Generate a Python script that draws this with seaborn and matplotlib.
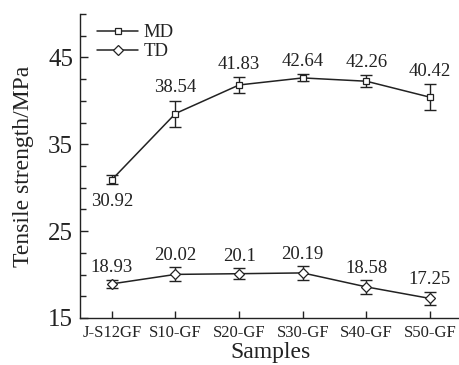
import numpy as np
import pandas as pd
import matplotlib
matplotlib.use("Agg")
import matplotlib.pyplot as plt
import seaborn as sns
from matplotlib.ticker import MultipleLocator

samples = ["J-S12GF", "S10-GF", "S20-GF", "S30-GF", "S40-GF", "S50-GF"]
md_values = [30.92, 38.54, 41.83, 42.64, 42.26, 40.42]
md_err = [0.5, 1.5, 0.9, 0.4, 0.7, 1.5]
td_values = [18.93, 20.02, 20.1, 20.19, 18.58, 17.25]
td_err = [0.5, 0.8, 0.6, 0.8, 0.8, 0.8]

sns.set_theme(style="ticks")
plt.rcParams['font.family'] = ['Liberation Serif', 'DejaVu Serif']

df = pd.DataFrame({
    "pos": list(range(len(samples))) * 2,
    "value": md_values + td_values,
    "series": ["MD"] * len(samples) + ["TD"] * len(samples),
})

INK = "#222222"
fig = plt.figure(figsize=(4.6, 3.65), dpi=100)
ax = fig.add_axes([80/460, 1 - 318/365, 1 - 80/460 + 0.004, (318 - 14)/365])

sns.lineplot(data=df, x="pos", y="value", hue="series", style="series",
             markers={"MD": "s", "TD": "D"}, dashes=False,
             palette={"MD": INK, "TD": INK},
             markersize=5, markerfacecolor="white", markeredgecolor=INK,
             markeredgewidth=0.9, linewidth=1.1, ax=ax, zorder=3)

x = np.arange(len(samples))
ax.errorbar(x, md_values, yerr=md_err, fmt="none", ecolor=INK,
            elinewidth=1.0, capsize=4, capthick=1.0, zorder=2)
ax.errorbar(x, td_values, yerr=td_err, fmt="none", ecolor=INK,
            elinewidth=1.0, capsize=4, capthick=1.0, zorder=2)

# value labels
for i, (v, e) in enumerate(zip(md_values, md_err)):
    if i == 0:
        ax.text(i, v - e - 1.0, f"{v:g}", ha="center", va="top", fontsize=13.5, color=INK)
    else:
        ax.text(i, v + e + 0.5, f"{v:g}", ha="center", va="bottom", fontsize=13.5, color=INK)
for i, (v, e) in enumerate(zip(td_values, td_err)):
    ax.text(i, v + e + 0.35, f"{v:g}", ha="center", va="bottom", fontsize=13.5, color=INK)

ax.set_xlim(-0.5, 5.5)
ax.set_ylim(15, 50)
ax.set_xticks(x)
ax.set_xticklabels(samples, fontsize=12)
ax.set_yticks([15, 25, 35, 45])
ax.yaxis.set_minor_locator(MultipleLocator(2.5))
ax.tick_params(axis="y", which="major", direction="in", length=6, labelsize=18,
               width=1, color=INK, pad=5, labelcolor=INK)
ax.tick_params(axis="y", which="minor", direction="in", length=4, width=1, color=INK)
ax.tick_params(axis="x", direction="in", length=5, width=1, pad=5, color=INK, labelcolor=INK)
ax.set_xlabel("Samples", fontsize=17, labelpad=1, color=INK)
ax.set_ylabel("Tensile strength/MPa", fontsize=17, color=INK)
ax.yaxis.set_label_coords(-(80 - 34) / 382, 0.5)
for s in ["left", "bottom"]:
    ax.spines[s].set_linewidth(1.0)
    ax.spines[s].set_color(INK)
ax.spines["top"].set_visible(False)
ax.spines["right"].set_visible(False)

leg = ax.legend(loc="upper left", bbox_to_anchor=(0.01, 1.01), frameon=False,
                fontsize=13.5, handlelength=2.2, handletextpad=0.3,
                labelspacing=0.1, borderaxespad=0.3)
for h in leg.legend_handles:
    h.set_markerfacecolor("white")
for t in leg.get_texts():
    t.set_color(INK)

fig.savefig("out.png", dpi=100)
